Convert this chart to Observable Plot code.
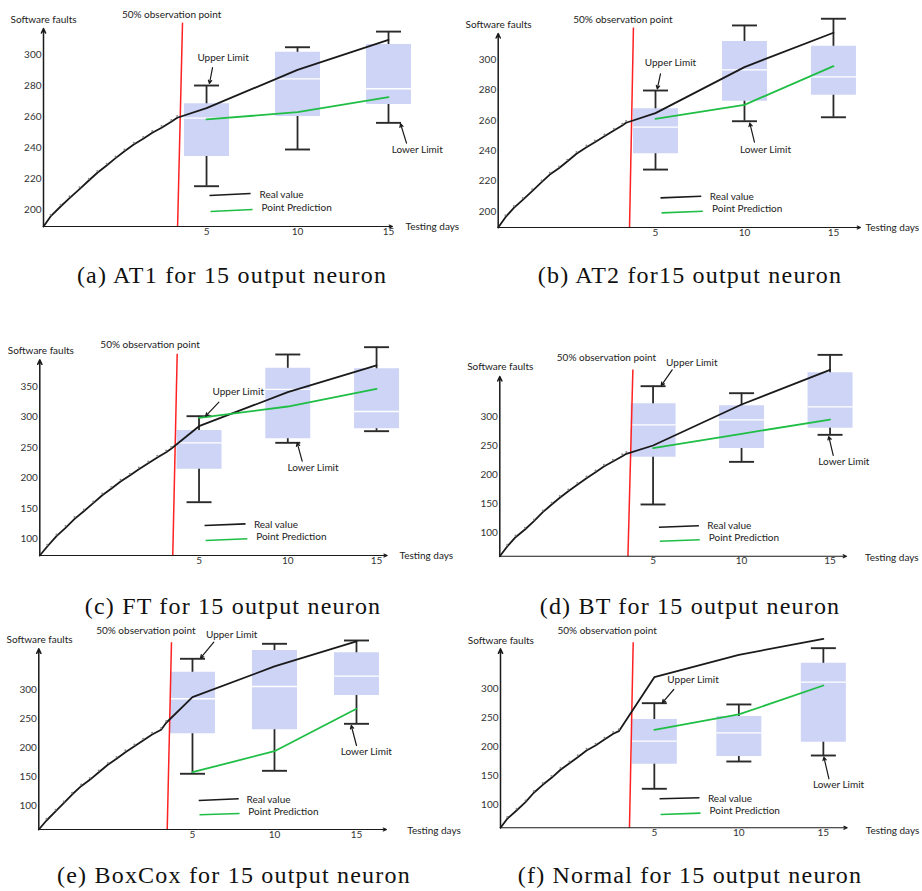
<!DOCTYPE html>
<html><head><meta charset="utf-8">
<script src="https://cdn.jsdelivr.net/npm/d3@7"></script>
<script src="https://cdn.jsdelivr.net/npm/@observablehq/plot@0.6"></script>
<style>
html,body{margin:0;padding:0;background:#fff;}
#page{position:relative;width:922px;height:891px;overflow:hidden;background:#fff;}
.panel{position:absolute;}
.panel svg{display:block;overflow:visible;}
.cap{position:absolute;text-align:center;font-family:"Liberation Serif","Times New Roman",serif;font-size:24px;letter-spacing:1.2px;line-height:24px;color:#111;white-space:nowrap;}
</style></head>
<body><div id="page"></div>
<script>
// ---------- shared labels ----------
const captions = ["(a) AT1 for 15 output neuron", "(b) AT2 for15 output neuron", "(c) FT for 15 output neuron",
                  "(d) BT for 15 output neuron", "(e) BoxCox for 15 output neuron", "(f) Normal for 15 output neuron"];
const forecastDays = [5, 10, 15];
const xTickValues = [5, 10, 15];
const yTicksSmall = [200, 220, 240, 260, 280, 300];
const yTicksFT = [100, 150, 200, 250, 300, 350];
const yTicksLarge = [100, 150, 200, 250, 300];
const axisTitles = ["Software faults", "Testing days"];
const obsPointLabel = "50% observation point";
const limitLabels = ["Upper Limit", "Lower Limit"];
const legendLabels = ["Real value", "Point Prediction"];

// ---------- (a) AT1 ----------
const obsDaysA = [-3.96,-3.57,-3.02,-2.53,-1.98,-1.47,-1.0,-0.49,0.0,0.49,1.0,1.52,2.02,2.53,3.06,3.39];
const obsFaultsA = [189.0,195.5,201.9,207.3,213.1,218.7,223.7,228.4,233.1,237.6,241.9,245.6,249.5,252.7,256.6,259.2];
const realA = [265.4, 290.1, 309.5];
const predA = [258.1, 262.8, 272.5];
const boxesA = [[215.0,234.2,258.9,268.2,280.0],[238.7,260.0,284.3,301.5,304.7],[255.9,267.7,277.9,306.5,314.8]];
const redA = [[3.68,320.6],[3.41,189.0]];
const obsLabelA = [3.08, 325.8];
const upperA = [[5.91,298.1],[5.33,291.6],[5.16,281.3]];
const lowerA = [[16.58,238.7],[15.99,242.8],[15.66,255.3]];
const legendA = [[5.16,209.0],[7.42,210.3],[7.91,209.7],[5.22,198.7],[7.53,200.0],[8.02,201.3]];

// ---------- (b) AT2 ----------
const obsDaysB = [-3.84,-3.43,-2.96,-2.46,-1.93,-1.40,-0.94,-0.43,0.04,0.56,1.12,1.59,2.13,2.66,3.13,3.35];
const obsFaultsB = [189.5,196.3,202.4,207.7,213.4,219.3,224.3,228.5,232.9,238.0,242.3,245.6,249.5,253.3,256.6,258.4];
const realB = [264.7, 295.0, 317.6];
const predB = [261.0, 270.2, 295.6];
const boxesB = [[227.6,238.0,255.5,267.6,279.6],[259.4,272.6,293.2,311.8,322.4],[262.0,276.5,288.6,308.7,326.8]];
const redB = [[3.76,321.0],[3.54,189.5]];
const obsLabelB = [3.17, 326.3];
const upperB = [[5.84,297.8],[5.28,290.6],[5.10,280.7]];
const lowerB = [[11.18,240.8],[10.56,245.6],[10.30,258.1]];
const legendB = [[5.28,209.0],[7.57,210.1],[8.05,209.7],[5.34,199.1],[7.66,200.2],[8.18,201.8]];

// ---------- (c) FT ----------
const obsDaysC = [-3.97,-3.55,-3.03,-2.52,-2.01,-1.49,-0.96,-0.45,0.05,0.58,1.10,1.61,2.14,2.65,3.15,3.43];
const obsFaultsC = [72.6,87.4,104.3,118.1,132.8,145.3,158.5,171.6,182.1,194.1,203.9,214.3,224.1,233.5,242.2,247.8];
const realC = [284.9, 340.8, 384.6];
const predC = [298.7, 317.2, 346.3];
const boxesC = [[160.1,214.3,257.6,277.8,301.3],[257.6,264.2,345.2,380.2,402.6],[276.7,280.6,309.0,379.1,414.6]];
const redC = [[3.77,403.8],[3.52,72.6]];
const obsLabelC = [2.24, 419.1];
const upperC = [[7.21,340.7],[6.12,324.3],[5.37,301.3]];
const lowerC = [[11.42,216.6],[10.81,227.4],[10.53,257.6]];
const legendC = [[5.31,121.8],[7.62,124.6],[8.09,123.5],[5.37,97.2],[7.72,100.0],[8.22,102.6]];

// ---------- (d) BT ----------
const obsDaysD = [-3.66,-3.24,-2.77,-2.24,-1.73,-1.23,-0.73,-0.27,0.21,0.72,1.24,1.75,2.22,2.73,3.26,3.49];
const obsFaultsD = [59.1,75.9,91.9,105.2,119.5,135.0,148.3,159.8,171.2,182.2,193.6,204.0,213.8,222.4,231.6,235.7];
const realD = [250.0, 320.7, 380.5];
const predD = [245.4, 270.2, 294.8];
const boxesD = [[148.3,229.8,285.7,321.9,352.3],[221.8,244.8,294.3,318.4,340.2],[268.4,279.8,316.7,375.3,406.3]];
const redD = [[3.86,381.0],[3.58,59.1]];
const obsLabelD = [2.37, 401.2];
const upperD = [[7.19,391.9],[6.08,380.5],[5.46,353.4]];
const lowerD = [[15.78,222.4],[15.18,232.8],[14.93,265.5]];
const legendD = [[5.33,109.1],[7.59,111.6],[8.06,110.9],[5.38,85.0],[7.64,87.4],[8.15,90.2]];

// ---------- (e) BoxCox ----------
const obsDaysE = [-4.37,-3.90,-3.35,-2.85,-2.34,-1.79,-1.26,-0.71,-0.16,0.37,0.91,1.46,1.99,2.54,3.09,3.40];
const obsFaultsE = [59.2,74.7,90.2,104.5,119.4,133.7,144.7,157.8,170.6,180.9,192.3,202.6,212.4,222.7,230.8,242.9];
const realE = [286.9, 339.8, 382.8];
const predE = [157.8, 194.0, 266.9];
const boxesE = [[155.1,223.9,284.2,330.0,353.0],[160.2,230.8,305.3,367.3,378.8],[241.1,289.8,323.1,363.3,384.5]];
const redE = [[3.72,381.6],[3.46,59.2]];
const obsLabelE = [2.16, 400.5];
const upperE = [[7.39,394.3],[6.30,381.6],[5.49,354.0]];
const lowerE = [[15.6,193.5],[15.0,203.8],[14.68,238.2]];
const legendE = [[5.38,109.1],[7.82,112.0],[8.29,110.8],[5.43,84.5],[7.87,86.7],[8.40,90.2]];

// ---------- (f) Normal ----------
const obsDaysF = [-4.10,-3.70,-3.15,-2.62,-2.13,-1.60,-1.08,-0.55,-0.02,0.47,0.99,1.52,2.05,2.57,2.90];
const obsFaultsF = [60.0,75.6,90.0,104.3,120.6,134.4,146.5,160.4,171.8,182.2,193.8,202.4,212.8,222.7,227.2];
const realF = [320.6, 359.3, 387.0];
const predF = [229.6, 256.1, 306.2];
const boxesF = [[127.5,170.1,209.9,247.4,275.6],[174.7,183.4,224.4,252.6,273.4],[185.1,208.1,311.9,344.8,370.8]];
const redF = [[3.75,381.1],[3.53,60.0]];
const obsLabelF = [2.21, 400.2];
const upperF = [[7.29,316.1],[6.15,299.3],[5.47,276.3]];
const lowerF = [[15.9,134.4],[15.33,144.8],[15.03,182.2]];
const legendF = [[5.31,110.2],[7.67,111.9],[8.17,109.5],[5.37,83.0],[7.73,85.4],[8.27,88.8]];

// ---------- scales (axis extents) ----------
const xDomains = [[-3.96,15.22],[-3.84,16.52],[-3.97,15.6],[-3.66,15.93],[-4.37,16.83],[-4.10,16.41]];
const yDomains = [[189.0,316.8],[189.5,317.1],[72.6,393.9],[59.1,369.0],[59.2,370.2],[60.0,369.7]];

// ---------- layout (pixels) ----------
const layout = [
  {left:0,   top:0,   w:461, h:250, ml:43,   mt:28,   mr:69,   mb:24,   sfdx:-33,   sfdy:-9,   tddx:13,   tddy:0},
  {left:461, top:0,   w:461, h:250, ml:36.7, mt:33,   mr:62,   mb:23,   sfdx:-32.7, sfdy:-9,   tddx:5,    tddy:0},
  {left:0,   top:325, w:461, h:250, ml:39.3, mt:34.3, mr:74.3, mb:20,   sfdx:-32,   sfdy:-9.3, tddx:12.3, tddy:0.7},
  {left:461, top:325, w:461, h:250, ml:38.3, mt:51,   mr:76,   mb:19.3, sfdx:-32.6, sfdy:-10,  tddx:18.5, tddy:1.6},
  {left:0,   top:615, w:461, h:240, ml:38.3, mt:33.3, mr:75,   mb:26,   sfdx:-32.3, sfdy:-9,   tddx:20.7, tddy:1.7},
  {left:461, top:615, w:461, h:240, ml:39,   mt:33.3, mr:75.3, mb:27.7, sfdx:-32.7, sfdy:-8.3, tddx:18.5, tddy:3.4}
];
const captionLayout = [
  {left:0, top:263, w:464}, {left:459, top:263, w:462},
  {left:0, top:594, w:466}, {left:459, top:594, w:462},
  {left:0, top:862.6, w:468}, {left:459, top:862.6, w:462}
];

const panels = [
  {obsDays:obsDaysA, obsFaults:obsFaultsA, real:realA, pred:predA, boxes:boxesA, red:redA, obsLabel:obsLabelA, upper:upperA, lower:lowerA, legend:legendA, yTicks:yTicksSmall},
  {obsDays:obsDaysB, obsFaults:obsFaultsB, real:realB, pred:predB, boxes:boxesB, red:redB, obsLabel:obsLabelB, upper:upperB, lower:lowerB, legend:legendB, yTicks:yTicksSmall},
  {obsDays:obsDaysC, obsFaults:obsFaultsC, real:realC, pred:predC, boxes:boxesC, red:redC, obsLabel:obsLabelC, upper:upperC, lower:lowerC, legend:legendC, yTicks:yTicksFT},
  {obsDays:obsDaysD, obsFaults:obsFaultsD, real:realD, pred:predD, boxes:boxesD, red:redD, obsLabel:obsLabelD, upper:upperD, lower:lowerD, legend:legendD, yTicks:yTicksLarge},
  {obsDays:obsDaysE, obsFaults:obsFaultsE, real:realE, pred:predE, boxes:boxesE, red:redE, obsLabel:obsLabelE, upper:upperE, lower:lowerE, legend:legendE, yTicks:yTicksLarge},
  {obsDays:obsDaysF, obsFaults:obsFaultsF, real:realF, pred:predF, boxes:boxesF, red:redF, obsLabel:obsLabelF, upper:upperF, lower:lowerF, legend:legendF, yTicks:yTicksLarge}
];

// horizontal line symbol (r = half width in px)
const hline = {draw(ctx, size) { const r = Math.sqrt(size / Math.PI); ctx.moveTo(-r, 0); ctx.lineTo(r, 0); }};

const INK = "#1a1a1a", BOX = "#cdd4f6", GREEN = "#1fbe45", RED = "#ff2222";

function makePanel(p, i) {
  const L = layout[i];
  const xd = xDomains[i], yd = yDomains[i];
  const obs = p.obsDays.map((d, k) => ({day: d, faults: p.obsFaults[k]}));
  const realData = obs.concat(forecastDays.map((d, k) => ({day: d, faults: p.real[k]})));
  const predData = forecastDays.map((d, k) => ({day: d, faults: p.pred[k]}));
  const boxData = forecastDays.map((d, k) => ({day: d, lo: p.boxes[k][0], q1: p.boxes[k][1], med: p.boxes[k][2], q3: p.boxes[k][3], hi: p.boxes[k][4]}));
  const lg = p.legend;
  const legendLines = [
    {x1: lg[0][0], y1: lg[0][1], x2: lg[1][0], y2: lg[1][1], c: INK},
    {x1: lg[3][0], y1: lg[3][1], x2: lg[4][0], y2: lg[4][1], c: GREEN}
  ];
  const legendText = [
    {x: lg[2][0], y: lg[2][1], t: legendLabels[0]},
    {x: lg[5][0], y: lg[5][1], t: legendLabels[1]}
  ];
  const limits = [
    {lx: p.upper[0][0], ly: p.upper[0][1], x1: p.upper[1][0], y1: p.upper[1][1], x2: p.upper[2][0], y2: p.upper[2][1], t: limitLabels[0]},
    {lx: p.lower[0][0], ly: p.lower[0][1], x1: p.lower[1][0], y1: p.lower[1][1], x2: p.lower[2][0], y2: p.lower[2][1], t: limitLabels[1]}
  ];
  return Plot.plot({
    width: L.w, height: L.h,
    marginLeft: L.ml, marginTop: L.mt, marginRight: L.mr, marginBottom: L.mb,
    x: {domain: xd}, y: {domain: yd},
    style: {fontFamily: "Lato, 'Open Sans', sans-serif", fontSize: "10px", color: "#222", background: "transparent", overflow: "visible"},
    marks: [
      Plot.axisX({ticks: xTickValues, tickSize: 0, tickPadding: 1, label: null, fill: "#333"}),
      Plot.axisY({ticks: p.yTicks, tickSize: 0, tickPadding: 2, label: null, fill: "#333"}),
      // whiskers + caps
      Plot.ruleX(boxData, {x: "day", y1: "lo", y2: "hi", stroke: "#2a2a2a", strokeWidth: 1.8}),
      Plot.dot(boxData, {x: "day", y: "lo", symbol: hline, r: 12.5, fill: "none", stroke: "#2a2a2a", strokeWidth: 1.9}),
      Plot.dot(boxData, {x: "day", y: "hi", symbol: hline, r: 12.5, fill: "none", stroke: "#2a2a2a", strokeWidth: 1.9}),
      // boxes + medians
      Plot.ruleX(boxData, {x: "day", y1: "q1", y2: "q3", stroke: BOX, strokeWidth: 45}),
      Plot.dot(boxData, {x: "day", y: "med", symbol: hline, r: 22.5, fill: "none", stroke: "#ffffff", strokeWidth: 1.3}),
      // 50% observation point
      Plot.link([p.red], {x1: d => d[0][0], y1: d => d[0][1], x2: d => d[1][0], y2: d => d[1][1], stroke: RED, strokeWidth: 1.5}),
      Plot.text([obsPointLabel], {x: () => p.obsLabel[0], y: () => p.obsLabel[1], text: d => d, textAnchor: "middle", lineAnchor: "middle", fill: "#222"}),
      // axes with arrow heads
      Plot.arrow([0], {x1: () => xd[0], y1: () => yd[0], x2: () => xd[0], y2: () => yd[1], stroke: INK, strokeWidth: 1.5, headLength: 5, headAngle: 50}),
      Plot.arrow([0], {x1: () => xd[0], y1: () => yd[0], x2: () => xd[1], y2: () => yd[0], stroke: INK, strokeWidth: 1.1, headLength: 5, headAngle: 50}),
      // series
      Plot.line(realData, {x: "day", y: "faults", stroke: INK, strokeWidth: 1.8}),
      Plot.dot(obs.slice(1), {x: "day", y: "faults", r: 1, fill: "#8a8a8a", dy: -1.8}),
      Plot.line(predData, {x: "day", y: "faults", stroke: GREEN, strokeWidth: 1.8}),
      // limit annotations
      Plot.arrow(limits, {x1: "x1", y1: "y1", x2: "x2", y2: "y2", stroke: INK, strokeWidth: 1.2, headLength: 4.5, headAngle: 55}),
      Plot.text(limits, {x: "lx", y: "ly", text: "t", textAnchor: "middle", lineAnchor: "middle", fill: "#222"}),
      // legend
      Plot.link(legendLines, {x1: "x1", y1: "y1", x2: "x2", y2: "y2", stroke: "c", strokeWidth: 1.6}),
      Plot.text(legendText, {x: "x", y: "y", text: "t", textAnchor: "start", lineAnchor: "middle", fill: "#222"}),
      // axis titles
      Plot.text([axisTitles[0]], {frameAnchor: "top-left", text: d => d, textAnchor: "start", lineAnchor: "middle", dx: L.sfdx, dy: L.sfdy, fill: "#222"}),
      Plot.text([axisTitles[1]], {frameAnchor: "bottom-right", text: d => d, textAnchor: "start", lineAnchor: "middle", dx: L.tddx, dy: L.tddy, fill: "#222"})
    ]
  });
}

const page = document.getElementById("page");
panels.forEach((p, i) => {
  const L = layout[i];
  const div = document.createElement("div");
  div.className = "panel";
  div.style.left = L.left + "px";
  div.style.top = L.top + "px";
  div.appendChild(makePanel(p, i));
  page.appendChild(div);
});
captions.forEach((c, i) => {
  const C = captionLayout[i];
  const div = document.createElement("div");
  div.className = "cap";
  div.style.left = C.left + "px";
  div.style.top = C.top + "px";
  div.style.width = C.w + "px";
  div.textContent = c;
  page.appendChild(div);
});
</script>
</body></html>
